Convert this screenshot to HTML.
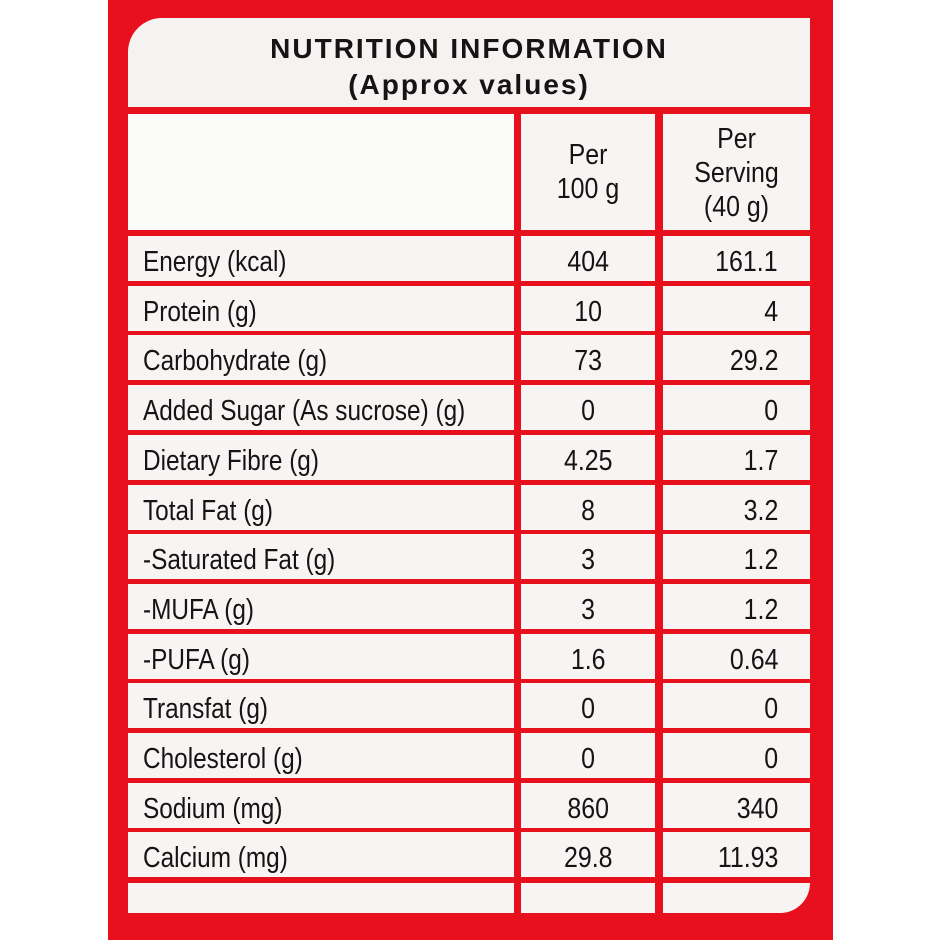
<!DOCTYPE html>
<html><head><meta charset="utf-8"><style>
html,body{margin:0;padding:0;width:940px;height:940px;background:#fff;overflow:hidden}
#red{position:absolute;left:108px;top:0;width:725px;height:940px;background:#e8101c}
.c{position:absolute;background:#f6f5f3;font-family:"Liberation Sans",sans-serif;color:#151313;font-size:29px;white-space:nowrap}
.t{position:absolute;transform-origin:0 50%;transform:scaleX(0.84)}
</style></head><body>
<div id="red"></div>
<div class="c" style="left:128px;top:18px;width:682px;height:89px;border-radius:34px 0 0 0;background:#f4f3f1">
 <div style="position:absolute;left:0;width:100%;top:13px;text-align:center;font-weight:bold;font-size:28px;letter-spacing:2px;line-height:36px">NUTRITION INFORMATION<br>(Approx values)</div>
</div>
<div class="c" style="left:128px;top:114px;width:386px;height:116px;background:#fbfbfa"></div>
<div class="c" style="left:521px;top:114px;width:134px;height:116px;text-align:center;line-height:34px"><div style="padding-top:24px;transform:scaleX(.86)">Per<br>100 g</div></div>
<div class="c" style="left:663px;top:114px;width:147px;height:116px;text-align:center;line-height:34px"><div style="padding-top:8px;transform:scaleX(.86)">Per<br>Serving<br>(40 g)</div></div>
<div id="rows"></div>
<script>
var d=[["Energy (kcal)","404","161.1"],["Protein (g)","10","4"],["Carbohydrate (g)","73","29.2"],["Added Sugar (As sucrose) (g)","0","0"],["Dietary Fibre (g)","4.25","1.7"],["Total Fat (g)","8","3.2"],["-Saturated Fat (g)","3","1.2"],["-MUFA (g)","3","1.2"],["-PUFA (g)","1.6","0.64"],["Transfat (g)","0","0"],["Cholesterol (g)","0","0"],["Sodium (mg)","860","340"],["Calcium (mg)","29.8","11.93"]];
var h="";
for(var i=0;i<d.length;i++){var y=236+i*49.7;
h+='<div class="c" style="left:128px;top:'+y+'px;width:386px;height:45px"><div class="t" style="left:15px;top:10px">'+d[i][0]+'</div></div>';
h+='<div class="c" style="left:521px;top:'+y+'px;width:134px;height:45px;text-align:center;line-height:53px"><span style="display:inline-block;transform:scaleX(.86)">'+d[i][1]+'</span></div>';
h+='<div class="c" style="left:663px;top:'+y+'px;width:147px;height:45px;text-align:right;line-height:53px"><span style="display:inline-block;transform:scaleX(.86);transform-origin:100% 50%;margin-right:32px">'+d[i][2]+'</span></div>';}
h+='<div class="c" style="left:128px;top:883px;width:386px;height:30px"></div><div class="c" style="left:521px;top:883px;width:134px;height:30px"></div><div class="c" style="left:663px;top:883px;width:147px;height:30px;border-radius:0 0 30px 0"></div>';
document.getElementById("rows").innerHTML=h;
</script>
</body></html>
